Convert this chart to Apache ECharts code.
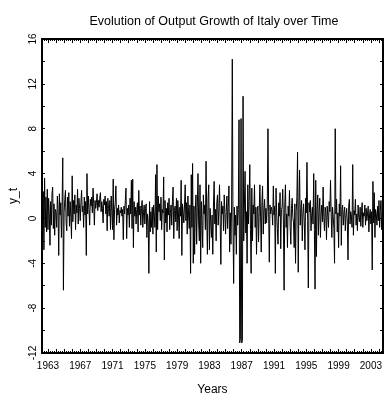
<!DOCTYPE html>
<html>
<head>
<meta charset="utf-8">
<script src="https://cdn.jsdelivr.net/npm/echarts@6/dist/echarts.min.js"></script>
<style>
  html, body { margin: 0; padding: 0; background: #fff; }
  #chart { width: 387px; height: 401px; }
</style>
</head>
<body>
<div id="chart"></div>
<script>
// Monthly output growth of Italy, starting April 1962
const startYear = 1962;
const startMonth = 4;
const growth = [
  // 1962 (Apr-Dec)
  1.2, -1.5, 2.4, -2.8, 3.6, -0.8, 1.9, -1.2, 2.6,
  // 1963
  -1.0, 1.8, 0.4, -2.4, 1.5, -0.6, 2.2, 2.8, -0.9, 1.3, -1.5, 0.8,
  // 1964
  0.6, -0.8, 2.0, 0.9, -3.3, 2.2, 0.3, 1.4, -1.7, 1.1, 5.4, -6.4,
  // 1965
  0.5, 1.7, 2.5, -0.4, -1.1, 1.9, 0.2, 2.3, -0.7, 1.5, 0.1, -1.8,
  // 1966
  3.8, -0.3, 1.6, 0.4, 2.1, -1.0, 1.2, 0.5, 2.6, -0.5, 1.8, 0.9,
  // 1967
  -0.2, 1.4, 2.5, 0.6, 1.1, -0.8, 1.9, 0.3, 1.5, -3.3, 4.0, 0.4,
  // 1968
  2.0, 0.8, -0.6, 1.7, 1.1, 1.9, 0.5, 2.7, 1.3, -0.6, 1.6, 0.9,
  // 1969
  1.4, 2.2, 0.7, 1.6, 1.0, 1.8, 2.3, 0.6, 1.5, 0.9, -0.4, 1.7,
  // 1970
  1.2, 2.0, 0.4, 1.5, -1.1, 1.8, 0.9, 0.2, 1.6, -1.0, 2.0, 0.6,
  // 1971
  -1.0, 3.5, -1.9, 0.8, 1.4, 2.9, -0.6, 0.9, 0.3, 1.2, -0.4, 0.7,
  // 1972
  0.5, 1.0, 0.2, 0.8, -1.9, 1.1, 0.4, 1.6, 2.7, -1.8, 0.9, 0.3,
  // 1973
  1.2, -0.8, 1.8, 0.4, 3.4, -0.9, 3.5, -2.6, 1.5, 0.2, 1.0, -0.5,
  // 1974
  0.8, 1.4, -1.2, 2.5, 0.3, 1.1, -0.6, 0.9, 1.6, -0.8, 0.5, 1.2,
  // 1975
  -0.5, 0.9, 1.3, -1.7, 0.4, -0.3, -4.9, 1.5, -1.2, 0.6, -0.8, 1.0,
  // 1976
  -1.4, 1.2, 0.3, -0.8, 3.9, -3.0, 4.8, -1.0, 2.0, 0.6, 1.3, -0.2,
  // 1977
  1.9, -1.0, 0.8, 0.5, 3.7, -3.7, 1.6, -0.4, 0.9, -1.2, 1.4, 0.3,
  // 1978
  1.8, -1.0, 0.5, 1.2, -0.6, 1.5, 2.8, -1.8, 0.7, 1.1, -0.3, 1.8,
  // 1979
  -1.1, 1.6, 0.4, -1.8, 1.0, 0.2, 3.4, -3.3, 1.3, 0.5, -0.4, 1.2,
  // 1980
  3.0, -0.2, 1.4, -1.4, 2.0, 0.3, -0.9, 1.2, -4.9, 3.9, -0.8, 4.9,
  // 1981
  -4.0, 1.1, -3.2, 0.6, 2.1, -2.3, 1.0, 4.0, -0.5, -2.0, 3.0, -4.0,
  // 1982
  1.5, -0.3, -2.6, 2.1, 0.4, 1.2, -1.0, 5.1, 0.2, -3.2, 1.8, 3.0,
  // 1983
  -2.8, 0.9, 1.0, -1.7, 0.3, -3.2, 1.2, 3.3, -0.5, 0.8, -2.0, 1.4,
  // 1984
  2.1, -0.6, 0.7, 3.0, -0.2, -4.1, 1.5, 0.4, 1.1, -1.1, 2.1, 0.5,
  // 1985
  -1.4, 0.6, 2.0, -0.9, 1.0, 2.9, -3.0, 0.5, -2.3, 1.2, 14.2, -0.4,
  // 1986
  -5.8, 1.0, -1.5, 0.3, -3.2, 1.1, -0.6, 0.8, 8.8, -11.1, -10.8, 8.9,
  // 1987
  -11.1, -10.9, 10.9, -2.0, 1.2, 4.2, -1.3, 0.6, -4.0, 3.0, -0.5, 1.5,
  // 1988
  4.8, -1.0, -4.9, 2.7, -2.0, 1.2, 0.4, 3.0, -0.8, 1.0, -3.2, 0.7,
  // 1989
  1.1, -2.1, 0.5, 3.0, 0.2, -3.0, 1.4, 2.9, -1.4, 0.8, 1.7, -0.5,
  // 1990
  0.9, -0.4, 1.3, 8.0, 0.6, -3.9, 1.2, 0.4, 1.0, 0.7, -0.6, 2.9,
  // 1991
  0.3, 1.1, -4.9, 2.7, 0.5, -0.9, -2.3, 1.4, 0.2, 2.3, -2.7, 0.8,
  // 1992
  1.0, 2.6, -0.5, -6.4, 1.2, 3.0, -0.8, 0.4, -2.6, 1.1, 0.2, 2.5,
  // 1993
  -0.7, -2.3, 0.9, 1.8, 0.1, -0.4, -2.6, 1.3, -4.0, 0.6, 1.9, 5.9,
  // 1994
  -4.8, 1.2, 4.3, -0.6, 0.9, 1.6, -2.0, 0.4, 1.3, -0.3, -2.8, 1.8,
  // 1995
  0.5, 5.0, -0.2, -6.2, 1.4, 0.6, 1.6, -1.1, 0.3, 1.0, -0.5, 4.0,
  // 1996
  -1.0, -6.3, 3.4, -3.4, 0.8, 2.1, -1.5, 0.6, 1.8, -1.7, 0.4, 1.2,
  // 1997
  -0.3, 2.8, 0.2, -1.1, 1.0, 0.5, -1.9, 1.1, 0.3, -0.8, 1.5, 0.6,
  // 1998
  3.4, 0.3, -1.7, 1.0, 0.2, -0.9, -4.0, 8.0, 0.4, 1.7, -1.2, 0.5,
  // 1999
  -2.6, 1.3, 0.2, 4.7, -2.4, 0.8, 1.2, -0.6, 0.5, 1.0, -1.1, 0.3,
  // 2000
  0.9, -0.4, -3.7, 1.1, 1.7, -0.5, 0.6, 0.2, -0.8, 4.8, -1.5, 0.7,
  // 2001
  0.3, 1.7, -0.6, 0.4, -1.1, 1.2, 0.1, -0.3, 1.0, -0.7, 0.6, 1.4,
  // 2002
  -0.8, 0.5, 0.2, 1.2, -0.6, 0.9, -0.2, 0.4, 1.1, -1.2, 0.3, 0.8,
  // 2003
  -0.5, 0.6, -4.6, 3.3, -0.4, 2.3, -1.7, 0.8, 0.4, -0.6, 1.1, -0.2,
  // 2004 (Jan-Jul)
  1.6, -0.8, 0.7, 1.6, -1.0, 0.4, 5.3
];
const xTickLabels = [1963, 1967, 1971, 1975, 1979, 1983, 1987, 1991, 1995, 1999, 2003];
const yTickLabels = [-12, -8, -4, 0, 4, 8, 12, 16];
const titleText = 'Evolution of Output Growth of Italy over Time';
const xName = 'Years';
const yName = 'y_t';

const xMin = 1962.25, xMax = 2004.5;
const yMin = -12, yMax = 16;

const seriesData = growth.map((v, i) => [startYear + (startMonth - 1 + i) / 12, v]);

const yearTicks = [];
for (let y = 1963; y <= 2004; y++) yearTicks.push(y);
const quarterTicks = [];
for (let q = 1962.5; q <= xMax; q += 0.25) if (q % 1 !== 0) quarterTicks.push(q);
const yTicks = [];
for (let v = yMin; v <= yMax; v += 2) yTicks.push(v);

const FONT = "'Liberation Sans Narrow', 'Liberation Sans', Arial, sans-serif";
const black = '#000';

function xAx(pos, ticks, len, line, labels) {
  const ax = {
    type: 'value', position: pos, min: xMin, max: xMax,
    splitLine: { show: false },
    axisLine: { show: line, onZero: false, lineStyle: { color: black, width: 2 } },
    axisTick: { show: true, inside: true, length: len, customValues: ticks, lineStyle: { color: black, width: 1 } },
    axisLabel: { show: false }
  };
  if (labels) {
    ax.axisLabel = {
      show: true, customValues: xTickLabels, color: black, fontSize: 10,
      fontFamily: FONT, margin: 8, formatter: v => String(Math.round(v))
    };
    ax.name = xName;
    ax.nameLocation = 'middle';
    ax.nameGap = 31;
    ax.nameTextStyle = { color: black, fontSize: 12, fontFamily: "'Liberation Sans', Arial, sans-serif" };
  }
  return ax;
}

function yAx(pos, labels) {
  const ax = {
    type: 'value', position: pos, min: yMin, max: yMax, interval: 4,
    splitLine: { show: false },
    axisLine: { show: true, onZero: false, lineStyle: { color: black, width: 2 } },
    axisTick: { show: true, inside: true, length: 3, customValues: yTicks, lineStyle: { color: black, width: 1 } },
    axisLabel: { show: false }
  };
  if (labels) {
    ax.axisLabel = {
      show: true, customValues: yTickLabels, rotate: 90, color: black, fontSize: 10,
      fontFamily: FONT, margin: 4, formatter: v => String(v)
    };
    ax.name = yName;
    ax.nameLocation = 'middle';
    ax.nameRotate = 90;
    ax.nameGap = 18;
    ax.nameTextStyle = { color: black, fontSize: 12, fontFamily: "'Liberation Sans', Arial, sans-serif" };
  }
  return ax;
}

const chart = echarts.init(document.getElementById('chart'), null, { renderer: 'canvas' });
chart.setOption({
  backgroundColor: '#fff',
  animation: false,
  title: {
    text: titleText, left: 209, top: 10, textAlign: 'center',
    textStyle: { color: black, fontSize: 12.5, fontWeight: 'normal', fontFamily: "'Liberation Sans', Arial, sans-serif" }
  },
  grid: { left: 35, right: 4, top: 39, bottom: 44, containLabel: false },
  xAxis: [
    xAx('bottom', yearTicks, 4, true, true),
    xAx('bottom', quarterTicks, 2, false, false),
    xAx('top', yearTicks, 4, true, false),
    xAx('top', quarterTicks, 2, false, false)
  ],
  yAxis: [yAx('left', true), yAx('right', false)],
  series: [{
    type: 'line', xAxisIndex: 0, yAxisIndex: 0,
    data: seriesData, showSymbol: false, symbol: 'none',
    lineStyle: { color: black, width: 1 }
  }]
});
</script>
</body>
</html>
